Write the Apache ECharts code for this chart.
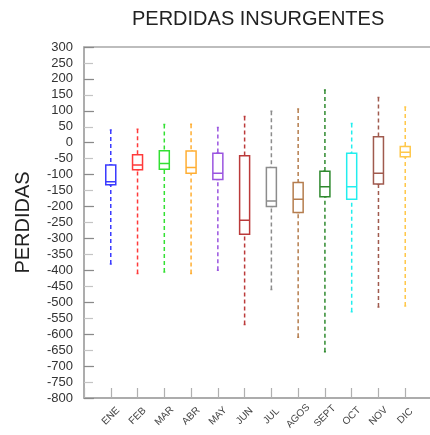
<!DOCTYPE html>
<html>
<head>
<meta charset="utf-8">
<script src="https://cdn.jsdelivr.net/npm/echarts@6/dist/echarts.min.js"></script>
<style>html,body{margin:0;padding:0;background:#fff;}#c{width:430px;height:435px;}</style>
</head>
<body>
<div id="c"></div>
<script>
const categories = ['ENE','FEB','MAR','ABR','MAY','JUN','JUL','AGOS','SEPT','OCT','NOV','DIC'];
const minVals = [-380,-410,-405,-410,-400,-570,-460,-610,-655,-530,-515,-512];
const q1Vals  = [-132,-85,-83,-96,-115,-287,-200,-219,-169,-177,-129,-44];
const medVals = [-122,-70,-65,-78,-96,-243,-183,-177,-138,-138,-96,-30];
const q3Vals  = [-70,-38,-25,-26,-33,-41,-78,-125,-89,-33,19,-12];
const maxVals = [40,42,57,58,48,82,99,106,165,60,142,112];
const colors = ['#3a3aff','#ff3a3a','#33e033','#ffae33','#9a55e0','#bb3a3a','#8c8c8c','#b57d4e','#2f8a2f','#22eeee','#a05a4e','#ffc84a'];

const font = 'Liberation Sans, Arial, Helvetica, sans-serif';
// padded axis: empty slot at both ends so the frame starts one step left of ENE
const axisCats = [''].concat(categories, ['']);
const boxData = ['-'], whiskerData = ['-'];
categories.forEach((c, i) => {
  boxData.push({value: [q1Vals[i], q1Vals[i], medVals[i], q3Vals[i], q3Vals[i]], itemStyle: {borderColor: colors[i], color: '#fff'}});
  whiskerData.push({value: [minVals[i], q1Vals[i], medVals[i], q3Vals[i], maxVals[i]], itemStyle: {borderColor: colors[i], color: colors[i]}});
});
boxData.push('-'); whiskerData.push('-');

const xBase = {
  type: 'category', data: axisCats, boundaryGap: false, position: 'bottom',
  axisLine: {onZero: false, lineStyle: {color: '#a8a8a8', width: 1.5}},
  axisTick: {inside: true, length: 10, interval: 0, lineStyle: {color: '#b0b0b0', width: 1.2}},
  axisLabel: {interval: 0, rotate: 45, align: 'center', verticalAlign: 'middle', margin: 18,
    fontFamily: font, fontSize: 10, color: '#444'},
  splitLine: {show: false}
};

const chart = echarts.init(document.getElementById('c'));
chart.setOption({
  animation: false,
  title: {
    text: 'PERDIDAS INSURGENTES', left: 132, top: 9, padding: 0,
    textStyle: {fontFamily: font, fontSize: 20, fontWeight: 'normal', color: '#222'}
  },
  grid: {
    left: 84, top: 47, width: 348, height: 351, containLabel: false, outerBoundsMode: 'none',
    show: true, borderColor: '#a8a8a8', borderWidth: 1.5, backgroundColor: 'transparent'
  },
  xAxis: [xBase, Object.assign({}, xBase, {show: false})],
  yAxis: [{
    type: 'value', min: -800, max: 300, interval: 50,
    name: 'PERDIDAS', nameLocation: 'middle', nameGap: 51,
    nameTextStyle: {fontFamily: font, fontSize: 20, color: '#222'},
    axisLine: {show: true, onZero: false, lineStyle: {color: '#a8a8a8', width: 1.5}},
    axisTick: {show: true, inside: true, length: 9, lineStyle: {color: '#c4c4c4', width: 1.2}},
    axisLabel: {margin: 11, fontFamily: font, fontSize: 13, color: '#333'},
    splitLine: {show: false}
  }, {
    type: 'value', min: -800, max: 300, interval: 100, position: 'left',
    axisLine: {show: false, onZero: false},
    axisTick: {show: true, inside: true, length: 10, lineStyle: {color: '#8a8a8a', width: 1.2}},
    axisLabel: {show: false},
    splitLine: {show: false}
  }],
  series: [{
    type: 'boxplot', data: whiskerData, boxWidth: [2, 2], z: 2, xAxisIndex: 1, yAxisIndex: 0,
    itemStyle: {borderWidth: 1.5, borderType: [4, 3]}
  }, {
    type: 'boxplot', data: boxData, boxWidth: [10, 10], z: 3, xAxisIndex: 0, yAxisIndex: 0,
    itemStyle: {borderWidth: 1.5, color: '#fff'}
  }]
});
</script>
</body>
</html>
